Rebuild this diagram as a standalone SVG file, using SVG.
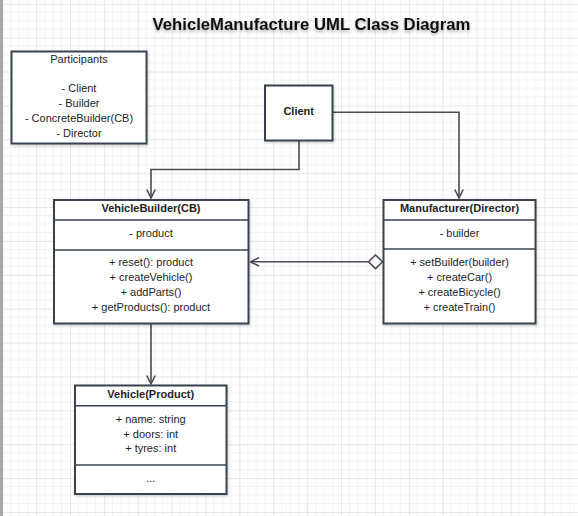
<svg xmlns="http://www.w3.org/2000/svg" width="578" height="516" viewBox="0 0 578 516">
<defs>
<pattern id="grid" x="2.3" y="3.8" width="33.875" height="33.875" patternUnits="userSpaceOnUse">
<path d="M8.47 0V33.875M16.94 0V33.875M25.4 0V33.875M0 8.47H33.875M0 16.94H33.875M0 25.4H33.875" stroke="#f3f3f3" stroke-width="1" fill="none"/>
<path d="M0.5 0V33.875M0 0.5H33.875" stroke="#e6e6e6" stroke-width="1" fill="none"/>
</pattern>
<filter id="sh" x="-10%" y="-10%" width="130%" height="130%">
<feDropShadow dx="1" dy="1.5" stdDeviation="1.2" flood-color="#000" flood-opacity="0.18"/>
</filter>
<filter id="tsh" x="-5%" y="-30%" width="110%" height="180%">
<feDropShadow dx="0" dy="2" stdDeviation="1.5" flood-color="#000" flood-opacity="0.3"/>
</filter>
<marker id="open" viewBox="0 0 10 10" refX="9.5" refY="5" markerWidth="10" markerHeight="10" markerUnits="userSpaceOnUse" orient="auto">
<path d="M1 0.8L9.5 5L1 9.2" fill="none" stroke="#474c55" stroke-width="1.6"/>
</marker>
</defs>
<style>
.box{fill:#fff;stroke:#3b4350;stroke-width:2}
.sep{stroke:#3b4350;stroke-width:1.6}
.t{font-family:"Liberation Sans",Arial,sans-serif;font-size:11px;fill:#1e1e1e;text-anchor:middle}
.b{font-weight:bold}
.c{fill:none;stroke:#474c55;stroke-width:1.6}
</style>
<rect width="578" height="516" fill="#fff"/>
<rect width="578" height="516" fill="url(#grid)"/>
<rect x="0" y="0" width="3" height="516" fill="#a8a8a8"/>

<text x="311.5" y="30" filter="url(#tsh)" style="font-family:'Liberation Sans',Arial,sans-serif;font-size:16.7px;font-weight:bold;fill:#111;text-anchor:middle">VehicleManufacture UML Class Diagram</text>

<g id="participants">
<rect class="box" x="11.5" y="51.5" width="135" height="92" filter="url(#sh)"/>
<text class="t" x="79" y="63">Participants</text>
<text class="t" x="79" y="92.3">- Client</text>
<text class="t" x="79" y="107">- Builder</text>
<text class="t" x="79" y="122.3">- ConcreteBuilder(CB)</text>
<text class="t" x="79" y="137">- Director</text>
</g>

<g id="connectors">
<path class="c" d="M299 141V169.5H151V198" marker-end="url(#open)"/>
<path class="c" d="M333 112.3H459V198" marker-end="url(#open)"/>
<path class="c" d="M368.5 261.8H250.5" marker-end="url(#open)"/>
<path d="M368.5 261.8L375.5 255L382.5 261.8L375.5 268.6Z" fill="#fff" stroke="#474c55" stroke-width="1.6"/>
<path class="c" d="M151 324V384" marker-end="url(#open)"/>
</g>

<g id="client">
<rect class="box" x="265" y="85.5" width="67.5" height="55" filter="url(#sh)"/>
<text class="t b" x="298.7" y="115">Client</text>
</g>

<g id="vehicleBuilder">
<rect class="box" x="54" y="200" width="194.5" height="123.5" filter="url(#sh)"/>
<line class="sep" x1="54" y1="220" x2="248.5" y2="220"/>
<line class="sep" x1="54" y1="250" x2="248.5" y2="250"/>
<text class="t b" x="151" y="212.3">VehicleBuilder(CB)</text>
<text class="t" x="151" y="237.3">- product</text>
<text class="t" x="151" y="266.3">+ reset(): product</text>
<text class="t" x="151" y="281.3">+ createVehicle()</text>
<text class="t" x="151" y="296.3">+ addParts()</text>
<text class="t" x="151" y="311.3">+ getProducts(): product</text>
</g>

<g id="manufacturer">
<rect class="box" x="383.5" y="200" width="152" height="123.5" filter="url(#sh)"/>
<line class="sep" x1="383.5" y1="220" x2="535.5" y2="220"/>
<line class="sep" x1="383.5" y1="249" x2="535.5" y2="249"/>
<text class="t b" x="459.5" y="212.3">Manufacturer(Director)</text>
<text class="t" x="459.5" y="237.3">- builder</text>
<text class="t" x="459.5" y="266">+ setBuilder(builder)</text>
<text class="t" x="459.5" y="281.3">+ createCar()</text>
<text class="t" x="459.5" y="296.3">+ createBicycle()</text>
<text class="t" x="459.5" y="311">+ createTrain()</text>
</g>

<g id="vehicle">
<rect class="box" x="75" y="385.5" width="151.5" height="108.5" filter="url(#sh)"/>
<line class="sep" x1="75" y1="405.7" x2="226.5" y2="405.7"/>
<line class="sep" x1="75" y1="465" x2="226.5" y2="465"/>
<text class="t b" x="150.7" y="398">Vehicle(Product)</text>
<text class="t" x="150.7" y="423">+ name: string</text>
<text class="t" x="150.7" y="438">+ doors: int</text>
<text class="t" x="150.7" y="452.3">+ tyres: int</text>
<text class="t" x="150.7" y="482">...</text>
</g>
</svg>
